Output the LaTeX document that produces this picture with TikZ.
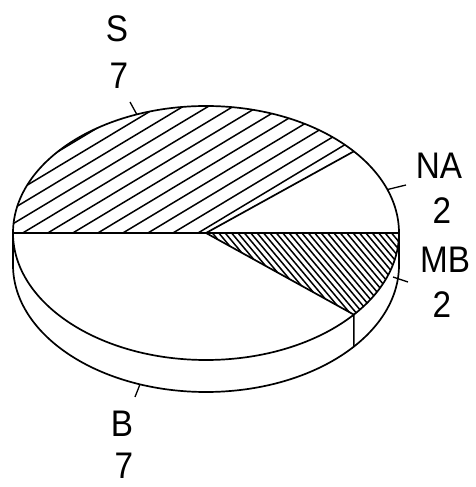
\documentclass[tikz,border=0pt]{standalone}
\usepackage{fontspec}
\setmainfont{Liberation Sans}
\usetikzlibrary{calc}

\begin{document}
\begin{tikzpicture}[x=1pt,y=1pt,line width=1.7pt,line join=round,
  lbl/.style={inner sep=0pt,font=\fontsize{37}{40}\selectfont,xscale=.9},
  hatch/.style={line width=1.5pt}]
\useasboundingbox (0,0) rectangle (476,487);
\coordinate (C) at (206,254);
\coordinate (D) at (206,222);
\coordinate (a40) at ($(C)+(40:193pt and 127pt)$);
\coordinate (a320) at ($(C)+(-40:193pt and 127pt)$);
% side of the disc
\draw ($(C)+(-193,0)$) -- ($(D)+(-193,0)$) arc (180:360:193pt and 127pt) -- ($(C)+(193,0)$);
% hatching S
\begin{scope}
  \clip (C) -- (a40) arc (40:180:193pt and 127pt) -- cycle;
  \begin{scope}[shift={(198,254)},rotate=31]
    \foreach \k in {0,...,18} \draw[hatch] (-400,\k*12.9) -- (400,\k*12.9);
  \end{scope}
\end{scope}
% hatching MB
\begin{scope}
  \clip (C) -- (a320) arc (-40:0:193pt and 127pt) -- cycle;
  \begin{scope}[shift={(C)},rotate=-50]
    \foreach \k in {-45,...,45} \draw[hatch] (-300,\k*4.9) -- (300,\k*4.9);
  \end{scope}
\end{scope}
% top face
\draw (C) ellipse (193pt and 127pt);
\draw ($(C)+(-193,0)$) -- ($(C)+(193,0)$);
\draw (C) -- (a40);
\draw (C) -- (a320) -- ++(0,-32);
% labels
\draw node [lbl] (S) at (117,458) {S};
\draw node [lbl] (S7) at (119,411) {7};
\draw node [lbl] (NA) at (439,321) {NA};
\draw node [lbl] (NA2) at (442,276) {2};
\draw node [lbl] (MB) at (445,227) {MB};
\draw node [lbl] (MB2) at (442,182) {2};
\draw node [lbl] (B) at (122,63) {B};
\draw node [lbl] (B7) at (124,21) {7};
% ticks
\coordinate (pS) at ($(C)+(111:193pt and 127pt)$);
\coordinate (tS) at (130,385);
\coordinate (pNA) at ($(C)+(20:193pt and 127pt)$);
\coordinate (tNA) at (406,302);
\coordinate (pMB) at (393,210);
\coordinate (tMB) at (408,205);
\coordinate (pB) at ($(D)+(-110:193pt and 127pt)$);
\coordinate (tB) at (135,90);
\draw[line width=1.3pt] (tS) -- (pS);
\draw[line width=1.3pt] (tNA) -- (pNA);
\draw[line width=1.3pt] (tMB) -- (pMB);
\draw[line width=1.3pt] (tB) -- (pB);
\end{tikzpicture}
\end{document}
